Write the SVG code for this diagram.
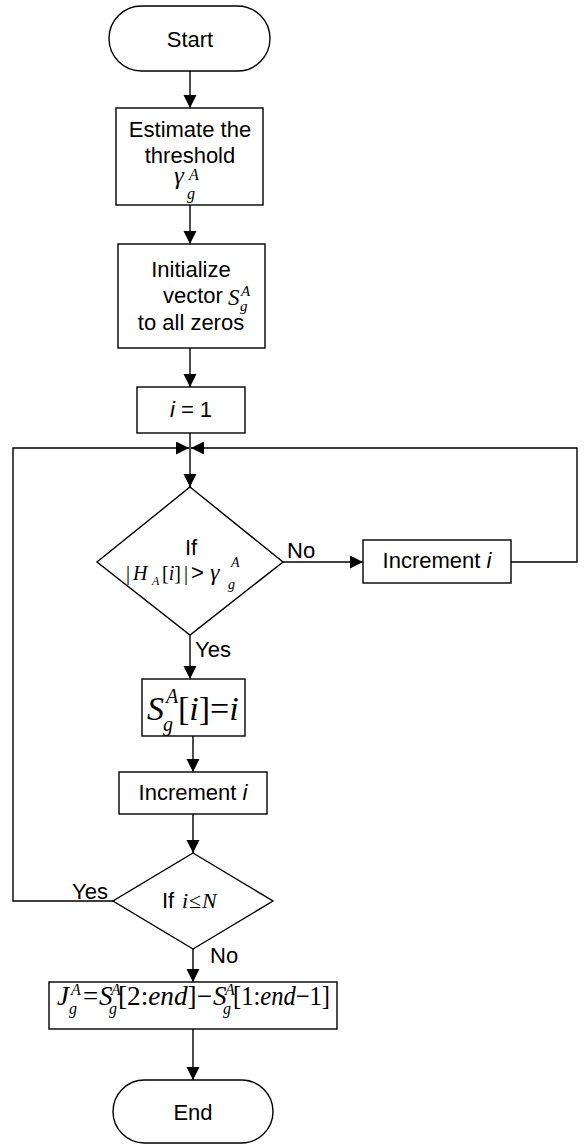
<svg xmlns="http://www.w3.org/2000/svg" width="585" height="1144" viewBox="0 0 585 1144">
<style>
.b{fill:#fff;stroke:#000;stroke-width:1.4}
.c{fill:none;stroke:#000;stroke-width:1.4}
.t{font-family:"Liberation Sans",Arial,sans-serif;font-size:22px;fill:#000}
.m{font-family:"Liberation Serif","Times New Roman",serif;fill:#000}
.i{font-style:italic}
.mid{text-anchor:middle}
</style>
<defs>
<marker id="ah" markerUnits="userSpaceOnUse" markerWidth="14" markerHeight="14" refX="13" refY="6.5" orient="auto">
<path d="M0,0 L13,6.5 L0,13 z" fill="#000"/>
</marker>
</defs>
<rect width="585" height="1144" fill="#fff"/>
<g id="connectors">
<line class="c" x1="190" y1="71" x2="190" y2="108" marker-end="url(#ah)"/>
<line class="c" x1="190" y1="205" x2="190" y2="244" marker-end="url(#ah)"/>
<line class="c" x1="190" y1="348" x2="190" y2="387" marker-end="url(#ah)"/>
<line class="c" x1="190" y1="433" x2="190" y2="487" marker-end="url(#ah)"/>
<polyline class="c" points="113,901 13,901 13,448 189,448" marker-end="url(#ah)"/>
<polyline class="c" points="511,562 577,562 577,448 191,448" marker-end="url(#ah)"/>
<line class="c" x1="283" y1="562" x2="363" y2="562" marker-end="url(#ah)"/>
<line class="c" x1="190" y1="635" x2="190" y2="679" marker-end="url(#ah)"/>
<line class="c" x1="193" y1="736" x2="193" y2="772" marker-end="url(#ah)"/>
<line class="c" x1="193" y1="814" x2="193" y2="853" marker-end="url(#ah)"/>
<line class="c" x1="193" y1="949" x2="193" y2="982" marker-end="url(#ah)"/>
<line class="c" x1="193" y1="1029" x2="193" y2="1080" marker-end="url(#ah)"/>
<text class="t" x="287" y="558">No</text>
<text class="t" x="195" y="657">Yes</text>
<text class="t" x="72" y="899">Yes</text>
<text class="t" x="210" y="963">No</text>
</g>
<g id="start">
<rect class="b" x="109" y="6" width="161" height="65" rx="32.5"/>
<text class="t mid" x="190" y="47">Start</text>
</g>
<g id="estimate">
<rect class="b" x="116" y="108" width="147" height="97"/>
<text class="t mid" x="190" y="137">Estimate the</text>
<text class="t mid" x="190" y="163">threshold</text>
<text class="m i" x="174" y="184" font-size="25">γ</text>
<text class="m i" x="189" y="180" font-size="16">A</text>
<text class="m i" x="187" y="199" font-size="16">g</text>
</g>
<g id="init">
<rect class="b" x="118" y="244" width="147" height="104"/>
<text class="t mid" x="191" y="277">Initialize</text>
<text class="t" x="163" y="303">vector</text>
<text class="m i" x="228" y="305" font-size="23">S</text>
<text class="m i" x="241" y="296" font-size="15">A</text>
<text class="m i" x="240" y="311" font-size="15">g</text>
<text class="t mid" x="191" y="330">to all zeros</text>
</g>
<g id="iinit">
<rect class="b" x="137" y="387" width="108" height="46"/>
<text class="t mid" x="191" y="417"><tspan class="i">i</tspan> = 1</text>
</g>
<g id="cond1">
<polygon class="b" points="190,487 283,562 190,635 97,562"/>
<text class="t mid" x="191" y="555">If</text>
<text class="m" x="126" y="580" font-size="20">|</text>
<text class="m i" x="133" y="580" font-size="20">H</text>
<text class="m i" x="152" y="585" font-size="12">A</text>
<text class="m" x="162" y="580" font-size="20">[<tspan class="i">i</tspan>]</text>
<text class="m" x="184" y="580" font-size="20">|</text>
<text class="t" x="191" y="580" font-size="20">&gt;</text>
<text class="m i" x="210" y="580" font-size="24">γ</text>
<text class="m i" x="231" y="567" font-size="14">A</text>
<text class="m i" x="228" y="589" font-size="14">g</text>
</g>
<g id="inc1">
<rect class="b" x="363" y="540" width="148" height="43"/>
<text class="t mid" x="437" y="568">Increment <tspan class="i">i</tspan></text>
</g>
<g id="assign">
<rect class="b" x="142" y="679" width="103" height="57"/>
<text class="m i" x="147" y="720" font-size="34">S</text>
<text class="m i" x="166" y="703" font-size="20">A</text>
<text class="m i" x="163" y="731" font-size="20">g</text>
<text class="m" x="178" y="720" font-size="34">[<tspan class="i">i</tspan>]=<tspan class="i">i</tspan></text>
</g>
<g id="inc2">
<rect class="b" x="119" y="772" width="148" height="42"/>
<text class="t mid" x="193" y="800">Increment <tspan class="i">i</tspan></text>
</g>
<g id="cond2">
<polygon class="b" points="193,853 273,901 193,949 113,901"/>
<text class="t" x="162" y="908">If</text>
<text class="m i" x="182" y="908" font-size="22">i</text>
<text class="m" x="189" y="908" font-size="22">≤</text>
<text class="m i" x="202" y="908" font-size="22">N</text>
</g>
<g id="diff">
<rect class="b" x="49" y="982" width="288" height="47"/>
<text class="m i" x="57" y="1005" font-size="27">J</text>
<text class="m i" x="71" y="995" font-size="16">A</text>
<text class="m i" x="69" y="1014" font-size="16">g</text>
<text class="m" x="83" y="1005" font-size="27">=</text>
<text class="m i" x="99" y="1005" font-size="27">S</text>
<text class="m i" x="111" y="995" font-size="16">A</text>
<text class="m i" x="109" y="1014" font-size="16">g</text>
<text class="m" x="118" y="1005" font-size="27" textLength="94" lengthAdjust="spacingAndGlyphs">[2:<tspan class="i">end</tspan>]−</text>
<text class="m i" x="213" y="1005" font-size="27">S</text>
<text class="m i" x="225" y="995" font-size="16">A</text>
<text class="m i" x="223" y="1014" font-size="16">g</text>
<text class="m" x="233" y="1005" font-size="27" textLength="97" lengthAdjust="spacingAndGlyphs">[1:<tspan class="i">end</tspan>−1]</text>
</g>
<g id="end">
<rect class="b" x="113" y="1080" width="160" height="63" rx="31.5"/>
<text class="t mid" x="193" y="1120">End</text>
</g>
</svg>
